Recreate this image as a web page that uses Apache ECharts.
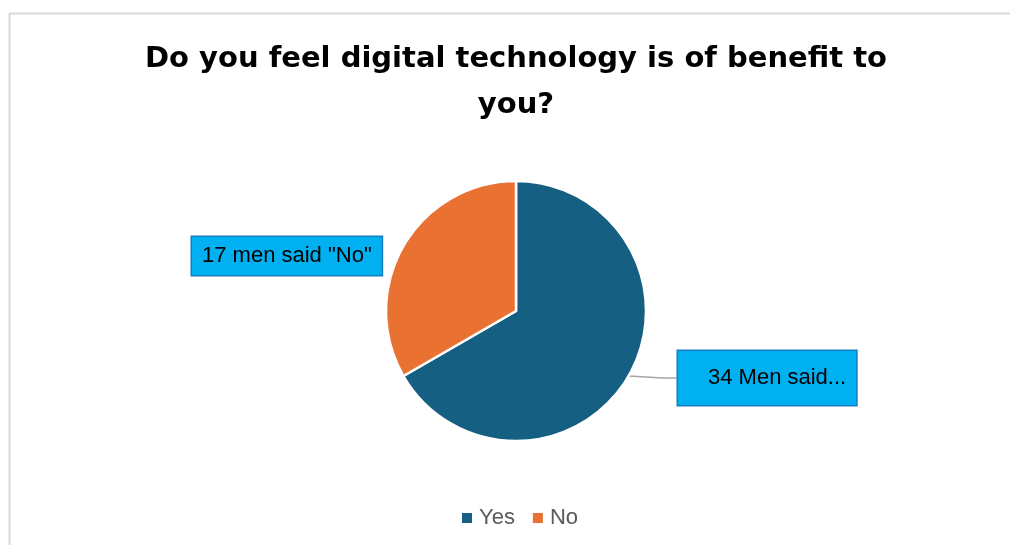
<!DOCTYPE html>
<html>
<head>
<meta charset="utf-8">
<title>Digital technology benefit</title>
<script src="https://cdn.jsdelivr.net/npm/echarts@6/dist/echarts.min.js"></script>
<style>
  html, body { margin: 0; padding: 0; background: #ffffff; }
  #chart { width: 1010px; height: 545px; }
</style>
</head>
<body>
<div id="chart"></div>
<script>
// Survey answers
const answers = ['Yes', 'No'];
const counts = [34, 17];
const colors = ['#156082', '#E97132'];
const labelTexts = [
  n => n + ' Men said...',
  n => n + ' men said "No"'
];

const chart = echarts.init(document.getElementById('chart'), null, { renderer: 'canvas' });
const fontFamily = '"Liberation Sans", Arial, sans-serif';
const titleFont = '"DejaVu Sans", "Liberation Sans", sans-serif';

// fixed callout boxes (top-left corners)
const calloutSpots = [
  { x: 678, y: 351 },
  { x: 192, y: 237 }
];

const option = {
  backgroundColor: '#ffffff',
  animation: false,
  title: {
    text: 'Do you feel digital technology is of benefit to\nyou?',
    left: 511,
    textAlign: 'center',
    top: 31,
    textStyle: {
      fontFamily: titleFont,
      fontSize: 29,
      fontWeight: 'bold',
      color: '#000000',
      lineHeight: 46
    }
  },
  legend: {
    bottom: 11,
    left: 457,
    icon: 'rect',
    itemWidth: 10,
    itemHeight: 10,
    itemGap: 18,
    itemStyle: { borderWidth: 0 },
    data: answers,
    textStyle: { fontFamily: fontFamily, fontSize: 22, color: '#595959', padding: [0, 0, 0, 2] }
  },
  graphic: [{
    type: 'rect',
    silent: true,
    shape: { x: 9.5, y: 13.5, width: 1020, height: 560 },
    style: { fill: 'none', stroke: '#d9d9d9', lineWidth: 2 }
  }],
  series: [{
    type: 'pie',
    center: [516, 311],
    radius: 130,
    startAngle: 90,
    clockwise: true,
    itemStyle: { borderColor: '#ffffff', borderWidth: 2.5 },
    emphasis: { disabled: true },
    data: answers.map((name, i) => ({
      name: name,
      value: counts[i],
      itemStyle: { color: colors[i] },
      label: {
        show: true,
        formatter: labelTexts[i](counts[i]),
        fontFamily: fontFamily,
        fontSize: 22,
        color: '#000000',
        backgroundColor: '#00B0F0',
        borderColor: '#1b7bc0',
        borderWidth: 1.5,
        padding: i === 0 ? [16, 10, 16, 30] : [8, 10, 8, 10]
      },
      labelLine: {
        show: i === 0,
        length: 14,
        length2: 14,
        lineStyle: { color: '#a6a6a6', width: 1.5 }
      }
    })),
    labelLayout: function (params) {
      const spot = calloutSpots[params.dataIndex];
      return { x: spot.x, y: spot.y, align: 'left', verticalAlign: 'top' };
    }
  }]
};

chart.setOption(option);
</script>
</body>
</html>
